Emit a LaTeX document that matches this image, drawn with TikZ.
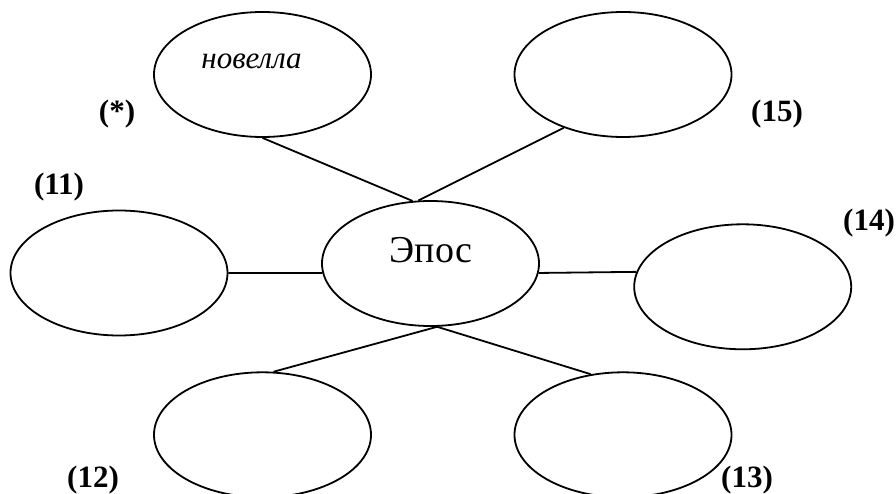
\documentclass[tikz,border=0pt]{standalone}
\usepackage{fontspec}
\setmainfont{Liberation Serif}
\usetikzlibrary{shapes.geometric}
\begin{document}
\begin{tikzpicture}[x=1pt,y=-1pt,
  bubble/.style={draw,line width=1.8pt,ellipse,minimum width=217pt,minimum height=125pt,inner sep=0pt},
  link/.style={line width=1.8pt},
  tag/.style={anchor=base,inner sep=0pt,font=\fontsize{31}{31}\selectfont\bfseries}]
\useasboundingbox (0,0) rectangle (896,494);
\clip (0,0) rectangle (896,494);
\fill[white] (0,0) rectangle (896,494);
\node[bubble] (tl) at (262.5,74.5) {};
\node[bubble] (tr) at (623,74.5) {};
\node[bubble] (l) at (119,273) {};
\node[bubble] (c) at (430.5,263.5) {};
\node[bubble] (r) at (742.7,286.8) {};
\node[bubble] (bl) at (262.5,434.8) {};
\node[bubble] (br) at (623,434.8) {};
\node[anchor=base,inner sep=0pt,font=\fontsize{31}{31}\selectfont\itshape] (nov) at (251.5,68.3) {новелла};
\node[anchor=base,inner sep=0pt,font=\fontsize{38}{38}\selectfont] (epos) at (431,262.7) {Эпос};
\draw[link] (tl.south) -- (c.106);
\draw[link] (tr.222) -- (c.101);
\draw[link] (l.east) -- (c.185);
\draw[link] (c.355) -- (r.172);
\draw[link] (bl.80) -- (c.276);
\draw[link] (c.276) -- (br.118);
\node[tag] (s) at (117,121.7) {(*)};
\node[tag] (n11) at (59,195) {(11)};
\node[tag] (n15) at (777,121.7) {(15)};
\node[tag] (n14) at (869,231) {(14)};
\node[tag] (n12) at (93,487.7) {(12)};
\node[tag] (n13) at (747,487.7) {(13)};
\end{tikzpicture}
\end{document}
